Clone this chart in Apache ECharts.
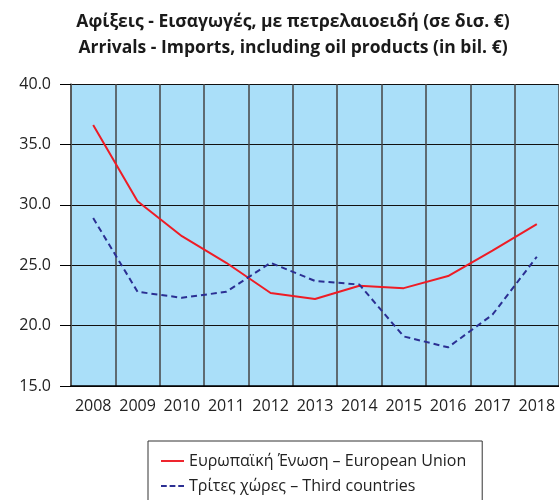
<!DOCTYPE html>
<html>
<head>
<meta charset="utf-8">
<script src="https://cdn.jsdelivr.net/npm/echarts@6/dist/echarts.min.js"></script>
<style>
  html, body { margin: 0; padding: 0; background: #fff; }
  #chart { width: 559px; height: 500px; }
</style>
</head>
<body>
<div id="chart"></div>
<script>
// Years on the category axis
const years = ['2008', '2009', '2010', '2011', '2012', '2013', '2014', '2015', '2016', '2017', '2018'];
// Arrivals from the European Union (bil. €)
const euValues = [36.6, 30.3, 27.4, 25.2, 22.7, 22.2, 23.3, 23.1, 24.1, 26.2, 28.4];
// Imports from third countries (bil. €)
const thirdValues = [28.9, 22.8, 22.3, 22.8, 25.2, 23.7, 23.4, 19.1, 18.2, 20.9, 25.7];

const seriesNames = ['Ευρωπαϊκή Ένωση – European Union', 'Τρίτες χώρες – Third countries'];
const titleLines = [
  'Αφίξεις - Εισαγωγές, με πετρελαιοειδή (σε δισ. €)',
  'Arrivals - Imports, including oil products (in bil. €)'
];

const FONT = '"Open Sans", sans-serif';
const chart = echarts.init(document.getElementById('chart'));

chart.setOption({
  animation: false,
  backgroundColor: '#ffffff',
  title: {
    text: titleLines.join('\n'),
    left: 288,
    top: 4,
    textAlign: 'center',
    textStyle: {
      fontFamily: FONT,
      fontSize: 17.5,
      fontWeight: 'bold',
      color: '#1a1a1a',
      lineHeight: 26
    }
  },
  grid: {
    left: 71,
    top: 84,
    width: 491,
    height: 302,
    show: true,
    backgroundColor: '#aadff9',
    borderWidth: 0
  },
  legend: {
    orient: 'vertical',
    left: 148,
    top: 441,
    height: 90,
    padding: [12, 16, 30, 13],
    itemGap: 9,
    itemWidth: 23,
    itemHeight: 14,
    borderColor: '#333',
    borderWidth: 1,
    textStyle: { fontFamily: FONT, fontSize: 16, color: '#222' },
    data: [
      { name: seriesNames[0], icon: 'path://M0,6L24,6L24,8L0,8Z' },
      { name: seriesNames[1], icon: 'path://M0,6L6,6L6,8L0,8Z M9,6L15,6L15,8L9,8Z M18,6L24,6L24,8L18,8Z' }
    ]
  },
  xAxis: {
    type: 'category',
    data: years,
    boundaryGap: true,
    axisLine: { show: true, lineStyle: { color: '#000', width: 1.5 } },
    axisTick: { show: false },
    splitLine: { show: true, interval: 0, lineStyle: { color: '#444', width: 1.5 } },
    axisLabel: { fontFamily: FONT, fontSize: 16, color: '#222', margin: 12, interval: 0 }
  },
  yAxis: {
    type: 'value',
    min: 15,
    max: 40,
    interval: 5,
    axisLine: { show: true, lineStyle: { color: '#555', width: 1.5 } },
    axisTick: { show: true, length: 11, lineStyle: { color: '#000' } },
    splitLine: { show: true, lineStyle: { color: '#111', width: 1.2 } },
    axisLabel: {
      fontFamily: FONT, fontSize: 16, color: '#222', margin: 20,
      formatter: v => v.toFixed(1)
    }
  },
  series: [
    {
      name: seriesNames[0],
      type: 'line',
      data: euValues,
      symbol: 'none',
      lineStyle: { color: '#ee1c25', width: 2 },
      itemStyle: { color: '#ee1c25' }
    },
    {
      name: seriesNames[1],
      type: 'line',
      data: thirdValues,
      symbol: 'none',
      lineStyle: { color: '#2b2f93', width: 2, type: [6, 4] },
      itemStyle: { color: '#2b2f93' }
    }
  ]
});
</script>
</body>
</html>
